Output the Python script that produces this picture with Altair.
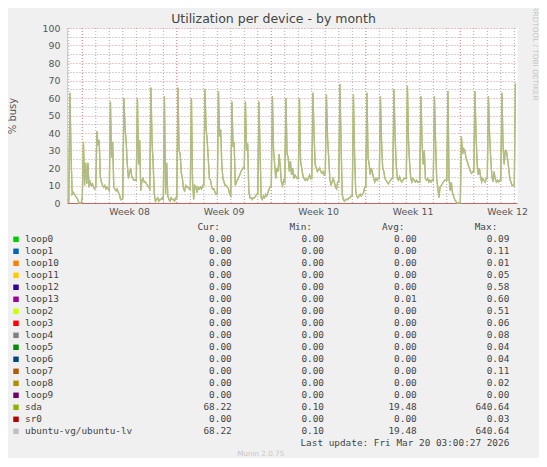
import altair as alt
import pandas as pd

# ---------------- data ----------------
# 2-hour averages of "% busy", first sample 2026-02-14 22:00
sda_pre = [2]
sda_feb15 = [1, 63, 28, 5, 6, 5, 4, 3, 2, 0, 0, 0]
sda_feb16 = [3, 35, 10, 23, 11, 23, 9, 12, 10, 11, 9, 8]
sda_feb17 = [9, 41, 33, 36, 15, 12, 10, 9, 10, 8, 9, 8]
sda_feb18 = [7, 58, 26, 35, 9, 8, 7, 8, 6, 5, 2, 2]
sda_feb19 = [3, 60, 43, 35, 22, 14, 17, 20, 15, 14, 13, 13]
sda_feb20 = [13, 60, 22, 36, 7, 13, 14, 12, 12, 11, 10, 9]
sda_feb21 = [8, 66, 35, 22, 5, 1, 2, 3, 1, 2, 2, 3]
sda_feb22 = [2, 61, 5, 23, 4, 2, 1, 3, 2, 2, 1, 3]
sda_feb23 = [3, 66, 30, 28, 17, 14, 8, 7, 10, 9, 9, 8]
sda_feb24 = [8, 60, 12, 2, 10, 9, 6, 9, 8, 9, 8, 10]
sda_feb25 = [10, 65, 43, 36, 25, 14, 13, 9, 8, 8, 6, 5]
sda_feb26 = [6, 64, 38, 42, 22, 14, 12, 10, 10, 9, 8, 5]
sda_feb27 = [4, 58, 33, 34, 10, 12, 13, 15, 16, 18, 19, 20]
sda_feb28 = [20, 58, 30, 34, 7, 3, 3, 2, 3, 3, 4, 5]
sda_mar01 = [5, 58, 30, 3, 2, 4, 3, 5, 4, 6, 8, 9]
sda_mar02 = [10, 61, 30, 22, 14, 20, 18, 28, 20, 12, 10, 13]
sda_mar03 = [12, 60, 28, 26, 18, 24, 16, 20, 14, 16, 15, 14]
sda_mar04 = [14, 60, 24, 20, 16, 14, 13, 14, 13, 14, 16, 14]
sda_mar05 = [14, 63, 39, 22, 20, 18, 19, 20, 18, 17, 18, 16]
sda_mar06 = [17, 62, 37, 26, 14, 10, 12, 14, 12, 9, 8, 12]
sda_mar07 = [12, 68, 35, 5, 2, 1, 2, 2, 2, 3, 3, 4]
sda_mar08 = [4, 62, 28, 7, 4, 3, 4, 5, 4, 5, 6, 9]
sda_mar09 = [9, 63, 26, 22, 16, 20, 17, 14, 12, 14, 13, 14]
sda_mar10 = [14, 61, 35, 20, 18, 14, 13, 12, 11, 12, 13, 14]
sda_mar11 = [14, 65, 39, 22, 14, 13, 15, 13, 12, 13, 14, 14]
sda_mar12 = [14, 67, 35, 22, 14, 12, 14, 13, 12, 13, 12, 12]
sda_mar13 = [12, 61, 35, 22, 30, 14, 13, 14, 12, 13, 12, 13]
sda_mar14 = [13, 61, 35, 14, 9, 3, 9, 10, 11, 12, 13, 13]
sda_mar15 = [13, 64, 14, 7, 12, 6, 4, 2, 1, 0, 0, 0]
sda_mar16 = [0, 38, 28, 31, 30, 26, 24, 22, 20, 18, 17, 18]
sda_mar17 = [18, 64, 39, 22, 16, 20, 15, 12, 14, 13, 12, 14]
sda_mar18 = [14, 61, 39, 26, 16, 12, 18, 14, 12, 13, 12, 13]
sda_mar19 = [13, 63, 33, 22, 30, 30, 25, 20, 14, 12, 10, 10]
sda_mar20 = [10, 68.22]

sda = (sda_pre + sda_feb15 + sda_feb16 + sda_feb17 + sda_feb18 + sda_feb19 + sda_feb20
       + sda_feb21 + sda_feb22 + sda_feb23 + sda_feb24 + sda_feb25 + sda_feb26 + sda_feb27
       + sda_feb28 + sda_mar01 + sda_mar02 + sda_mar03 + sda_mar04 + sda_mar05 + sda_mar06
       + sda_mar07 + sda_mar08 + sda_mar09 + sda_mar10 + sda_mar11 + sda_mar12 + sda_mar13
       + sda_mar14 + sda_mar15 + sda_mar16 + sda_mar17 + sda_mar18 + sda_mar19 + sda_mar20)
ubuntu_lv = list(sda)  # identical device-mapper volume on sda

series_names = ["sda", "ubuntu-vg/ubuntu-lv"]
series_colors = ["#8FB300", "#BEBEBE"]

week_labels = ["Week 08", "Week 09", "Week 10", "Week 11", "Week 12"]
week_label_times = ["2026-02-19T12:00:00", "2026-02-26T12:00:00", "2026-03-05T12:00:00",
                    "2026-03-12T12:00:00", "2026-03-19T12:00:00"]

legend_names = ["loop0", "loop1", "loop10", "loop11", "loop12", "loop13", "loop2", "loop3",
                "loop4", "loop5", "loop6", "loop7", "loop8", "loop9", "sda", "sr0",
                "ubuntu-vg/ubuntu-lv"]
legend_colors = ["#00CC00", "#0066B3", "#FF8000", "#FFCC00", "#330099", "#990099", "#CCFF00",
                 "#FF0000", "#808080", "#008F00", "#00487D", "#B35A00", "#B38F00", "#6B006B",
                 "#8FB300", "#B30000", "#BEBEBE"]
legend_cur = [0, 0, 0, 0, 0, 0, 0, 0, 0, 0, 0, 0, 0, 0, 68.22, 0, 68.22]
legend_min = [0, 0, 0, 0, 0, 0, 0, 0, 0, 0, 0, 0, 0, 0, 0.10, 0, 0.10]
legend_avg = [0, 0, 0, 0, 0, 0.01, 0, 0, 0, 0, 0, 0, 0, 0, 19.48, 0, 19.48]
legend_max = [0.09, 0.11, 0.01, 0.05, 0.58, 0.60, 0.51, 0.06, 0.08, 0.04, 0.04, 0.11, 0.02,
              0.00, 640.64, 0.03, 640.64]

title_text = ["Utilization per device - by month"]
y_title = "% busy"
last_update = ["Last update: Fri Mar 20 03:00:27 2026"]
munin_version = ["Munin 2.0.75"]
rrd_credit = ["RRDTOOL / TOBI OETIKER"]

# ---------------- tables ----------------
times = pd.date_range("2026-02-14 22:00", periods=len(sda), freq="2h")
lines_df = pd.concat([
    pd.DataFrame({"time": times, "series": series_names[0], "value": sda}),
    pd.DataFrame({"time": times, "series": series_names[1], "value": ubuntu_lv}),
], ignore_index=True)
lines_df["time"] = lines_df["time"].dt.strftime("%Y-%m-%dT%H:%M:%S")
weeks_df = pd.DataFrame({"time": week_label_times, "label": week_labels})
legend_df = pd.DataFrame({"name": legend_names, "color": legend_colors, "cur": legend_cur,
                          "min": legend_min, "avg": legend_avg, "max": legend_max})

# vertical grid: every midnight (minor) and every Monday (major)
day_grid = pd.date_range("2026-02-15", "2026-03-20", freq="D")
day_grid_df = pd.DataFrame({"time": day_grid.strftime("%Y-%m-%dT%H:%M:%S")})
week_grid_df = pd.DataFrame({"time": day_grid[day_grid.dayofweek == 0].strftime("%Y-%m-%dT%H:%M:%S")})

MAJOR = "#e89090"
MINOR = "#a8a8a8"
TXT = "#444444"
MONO = "DejaVu Sans Mono"
SANS = "DejaVu Sans"
FS = 9.4

x_scale = alt.Scale(domain=[alt.DateTime(year=2026, month=2, date=14, hours=20, minutes=48),
                            alt.DateTime(year=2026, month=3, date=20, hours=4, minutes=48)],
                    nice=False)

x_axis = alt.Axis(
    grid=False, ticks=False, labels=False,
    domainColor="#c86464", domainWidth=1, title="",
)
y_axis = alt.Axis(
    values=list(range(0, 101, 5)),
    grid=True,
    gridColor={"condition": {"test": "datum.value % 10 == 0", "value": MAJOR}, "value": MINOR},
    gridDash=[1, 2],
    ticks=False,
    labelExpr="datum.value % 10 == 0 ? datum.label : ''",
    labelFont=SANS, labelFontSize=FS, labelColor="#555555", labelPadding=7,
    domainColor="#c8c8f0", domainWidth=1,
    title=y_title, titleFont=SANS, titleFontSize=10, titleFontWeight="normal",
    titleColor="#555555", titleX=-54.5, titleY=87.5, titleAngle=270,
    titleAlign="center", titleBaseline="middle",
)

day_rules = alt.Chart(day_grid_df).mark_rule(color=MINOR, strokeDash=[1, 2], strokeWidth=1).encode(
    x=alt.X("time:T", scale=x_scale, axis=x_axis))
week_rules = alt.Chart(week_grid_df).mark_rule(color=MAJOR, strokeDash=[1, 2], strokeWidth=1).encode(
    x=alt.X("time:T"))

lines = alt.Chart(lines_df).mark_line(interpolate="linear").encode(
    x=alt.X("time:T"),
    y=alt.Y("value:Q", axis=y_axis, scale=alt.Scale(domain=[0, 100], nice=False)),
    color=alt.Color("series:N", scale=alt.Scale(domain=series_names, range=series_colors), legend=None),
    strokeWidth=alt.StrokeWidth("series:N", scale=alt.Scale(domain=series_names, range=[1.3, 1.3]), legend=None),
    opacity=alt.Opacity("series:N", scale=alt.Scale(domain=series_names, range=[1.0, 0.72]), legend=None),
)

week_txt = alt.Chart(weeks_df).mark_text(baseline="middle", align="center", font=SANS,
                                         fontSize=FS, color="#555555").encode(
    x=alt.X("time:T"), y=alt.value(184), text="label:N")

row_y = alt.Y("name:N", axis=None,
              scale=alt.Scale(type="point", domain=legend_names, range=[211.3, 403.3], padding=0))

swatches = alt.Chart(legend_df).mark_square(size=30, opacity=1).encode(
    x=alt.value(-51), y=row_y, color=alt.Color("color:N", scale=None))
names_txt = alt.Chart(legend_df).mark_text(align="left", baseline="middle", font=MONO,
                                           fontSize=FS, color=TXT).encode(
    x=alt.value(-42), y=row_y, text="name:N")


def num_col(field, xpos):
    return alt.Chart(legend_df).mark_text(align="right", baseline="middle", font=MONO,
                                          fontSize=FS, color=TXT).encode(
        x=alt.value(xpos), y=row_y, text=alt.Text(f"{field}:Q", format=".2f"))


def fixed_text(lines_list, xpos, ypos, align="right", font=MONO, size=FS, color=TXT, angle=0):
    kw = dict(align=align, baseline="middle", font=font, fontSize=size, color=color)
    if angle:
        kw["angle"] = angle
    return alt.Chart(pd.DataFrame({"t": lines_list})).mark_text(**kw).encode(
        x=alt.value(xpos), y=alt.value(ypos), text="t:N")


layers = [
    day_rules, week_rules, lines, week_txt, swatches, names_txt,
    num_col("cur", 164.7), num_col("min", 257), num_col("avg", 349.7), num_col("max", 442.3),
    fixed_text(["Cur:"], 153, 199.3), fixed_text(["Min:"], 245, 199.3),
    fixed_text(["Avg:"], 337.5, 199.3), fixed_text(["Max:"], 430.3, 199.3),
    fixed_text(last_update, 442.3, 415.3),
    fixed_text(title_text, 206.5, -9, align="center", font=SANS, size=12.5, color="#444444"),
    fixed_text(munin_version, 193.7, 426, align="center", font=SANS, size=7.2, color="#c8c8c8"),
    fixed_text(rrd_credit, 467.5, 25.5, align="center", font=SANS, size=7.3, color="#c8c8c8", angle=90),
]

chart = alt.layer(*layers).resolve_scale(y="independent", color="independent").properties(
    width=450, height=175,
    autosize=alt.AutoSizeParams(type="none"),
    padding={"left": 59, "top": 20, "right": 22, "bottom": 255},
    background="#F0F0F0",
).configure_view(fill="white", stroke="transparent")

chart.save("out.html", embed_options={"renderer": "svg", "actions": False})
